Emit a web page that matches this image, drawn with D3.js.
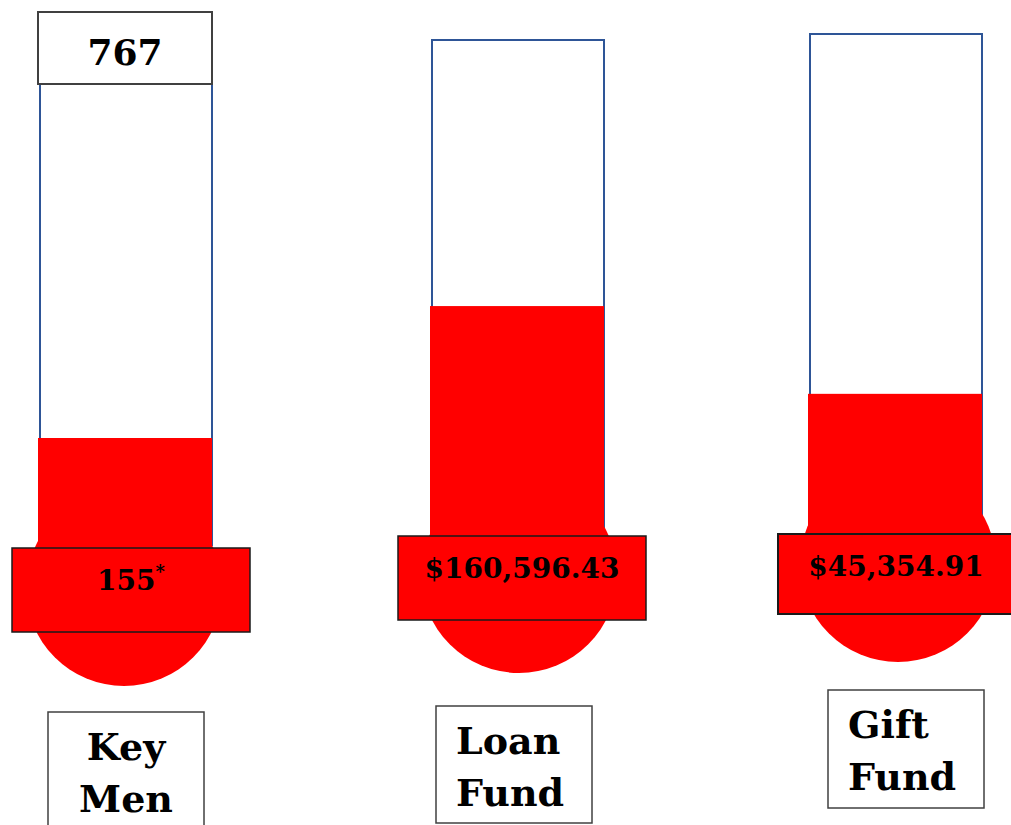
<!DOCTYPE html>
<html>
<head>
<meta charset="utf-8">
<script src="https://cdn.jsdelivr.net/npm/d3@7"></script>
<style>
  html, body { margin: 0; padding: 0; background: #fff; }
  svg { display: block; }
</style>
</head>
<body>
<div class="content"></div>
<script>
// data
const categories = ['Key Men', 'Loan Fund', 'Gift Fund'];
const labelLines = [['Key', 'Men'], ['Loan', 'Fund'], ['Gift', 'Fund']];
const valueLabels = ['155', '$160,596.43', '$45,354.91'];
const valueNotes = ['*', '', ''];
const goalLabels = ['767', '', ''];
const levels = [0.214, 0.457, 0.255]; // share of each tube that is red

(function () {
    const W = 1011, H = 825;
    const red = '#ff0000';
    const tubeBlue = '#2e5597';
    const serif = '"DejaVu Serif", "Liberation Serif", serif';

    // each thermometer was placed by hand in the source, so keep a small frame per item
    const frames = [
        {tubeL: 40, tubeTop: 45, tubeBot: 545, boxL: 12, boxW: 238, boxTop: 548, boxH: 84,
            bulbX: 124, bulbY: 588, labL: 48, labTop: 712, labH: 122, anchor: 'middle', boxStroke: 1.5},
        {tubeL: 432, tubeTop: 40, tubeBot: 530, boxL: 398, boxW: 248, boxTop: 536, boxH: 84,
            bulbX: 519, bulbY: 575, labL: 436, labTop: 706, labH: 117, anchor: 'start', boxStroke: 1.5},
        {tubeL: 810, tubeTop: 34, tubeBot: 517, boxL: 778, boxW: 236, boxTop: 534, boxH: 80,
            bulbX: 898, bulbY: 564, labL: 828, labTop: 690, labH: 118, anchor: 'start', boxStroke: 2}
    ];
    const tubeW = 172, labW = 156;
    const bulbR = 98;

    const svg = d3.select('.content').append('svg')
        .attr('width', W)
        .attr('height', H);

    svg.append('rect').attr('width', W).attr('height', H).attr('fill', '#fff');

    const items = categories.map((c, i) => ({
        name: c, lines: labelLines[i], value: valueLabels[i], note: valueNotes[i],
        goal: goalLabels[i], level: levels[i], f: frames[i]
    }));

    const g = svg.selectAll('g.thermo')
        .data(items)
        .enter()
        .append('g')
        .attr('class', 'thermo');

    // tube
    g.append('rect')
        .attr('x', d => d.f.tubeL)
        .attr('y', d => d.f.tubeTop)
        .attr('width', tubeW)
        .attr('height', d => d.f.tubeBot - d.f.tubeTop)
        .attr('fill', '#fff')
        .attr('stroke', tubeBlue)
        .attr('stroke-width', 2);

    // bulb
    g.append('circle')
        .attr('cx', d => d.f.bulbX)
        .attr('cy', d => d.f.bulbY)
        .attr('r', bulbR)
        .attr('fill', red);

    // mercury, through a scale per tube
    g.each(function (d) {
        const y = d3.scaleLinear().domain([0, 1]).range([d.f.tubeBot, d.f.tubeTop]);
        d3.select(this).append('rect')
            .attr('class', 'mercury')
            .attr('x', d.f.tubeL - 2)
            .attr('y', y(d.level))
            .attr('width', tubeW + 2)
            .attr('height', d.f.boxTop + 2 - y(d.level))
            .attr('fill', red);
    });

    // value box
    g.append('rect')
        .attr('x', d => d.f.boxL)
        .attr('y', d => d.f.boxTop)
        .attr('width', d => d.f.boxW)
        .attr('height', d => d.f.boxH)
        .attr('fill', red)
        .attr('stroke', '#1a1a1a')
        .attr('stroke-width', d => d.f.boxStroke);

    const vt = g.append('text')
        .attr('x', d => d.f.boxL + d.f.boxW / 2)
        .attr('y', d => d.f.boxTop + 42)
        .attr('text-anchor', 'middle')
        .attr('font-family', serif)
        .attr('font-weight', 'bold')
        .attr('font-size', 28)
        .attr('fill', '#000');
    vt.append('tspan').text(d => d.value);
    vt.append('tspan')
        .attr('dy', -12)
        .attr('font-size', 18)
        .text(d => d.note);

    // goal box on top
    const goals = g.filter(d => d.goal !== '');
    goals.append('rect')
        .attr('x', d => d.f.tubeL - 2)
        .attr('y', 12)
        .attr('width', tubeW + 2)
        .attr('height', 72)
        .attr('fill', '#fff')
        .attr('stroke', '#404040')
        .attr('stroke-width', 2);
    goals.append('text')
        .attr('x', d => d.f.tubeL + tubeW / 2 - 1)
        .attr('y', 65)
        .attr('text-anchor', 'middle')
        .attr('font-family', serif)
        .attr('font-weight', 'bold')
        .attr('font-size', 36)
        .attr('fill', '#000')
        .text(d => d.goal);

    // name boxes
    g.append('rect')
        .attr('x', d => d.f.labL)
        .attr('y', d => d.f.labTop)
        .attr('width', labW)
        .attr('height', d => d.f.labH)
        .attr('fill', '#fff')
        .attr('stroke', '#404040')
        .attr('stroke-width', 1.5);

    g.each(function (d) {
        const t = d3.select(this).append('text')
            .attr('font-family', serif)
            .attr('font-weight', 'bold')
            .attr('font-size', 38)
            .attr('fill', '#000')
            .attr('text-anchor', d.f.anchor);
        const x = d.f.anchor === 'middle' ? d.f.labL + labW / 2 : d.f.labL + 20;
        t.selectAll('tspan')
            .data(d.lines)
            .enter()
            .append('tspan')
            .attr('x', x)
            .attr('y', (s, i) => d.f.labTop + 48 + i * 52)
            .text(s => s);
    });
})();
</script>
</body>
</html>
